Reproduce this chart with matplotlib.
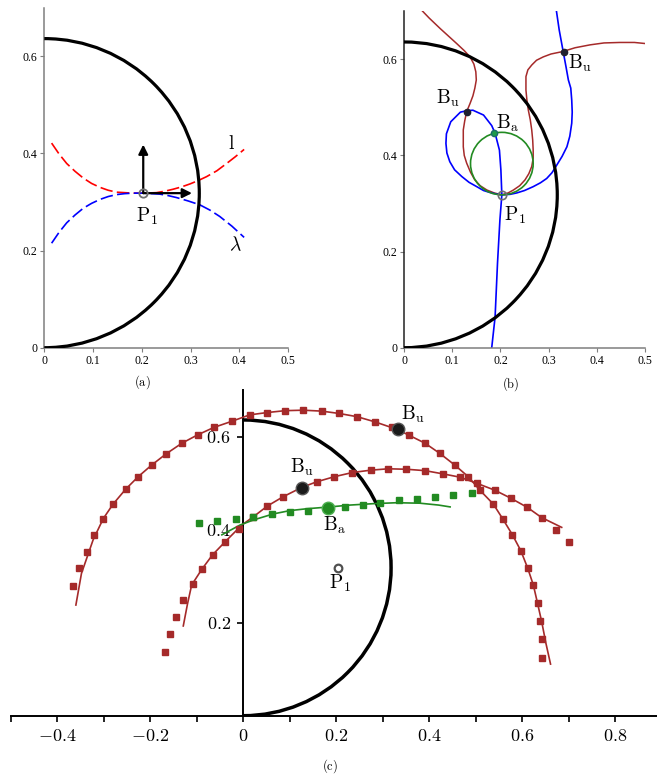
import matplotlib.pyplot as plt
from matplotlib.patches import Arc, Circle

plt.rcParams['mathtext.fontset'] = 'cm'
plt.rcParams['font.family'] = ['Liberation Serif', 'DejaVu Serif']

# boundary half circle and the point P1
circle_center = (0.0, 0.318)
circle_radius = 0.318
p1 = (0.203, 0.318)

# (a) the curves l and lambda touching at P1, and the two unit directions
l_x = [0.015, 0.030, 0.046, 0.063, 0.080, 0.097, 0.114, 0.131, 0.148, 0.165, 0.182, 0.203, 0.230,
       0.247, 0.264, 0.282, 0.299, 0.316, 0.333, 0.354, 0.374, 0.392, 0.410]
l_y = [0.421, 0.399, 0.379, 0.363, 0.349, 0.338, 0.330, 0.324, 0.320, 0.319, 0.318, 0.318, 0.319,
       0.322, 0.326, 0.331, 0.337, 0.344, 0.352, 0.364, 0.379, 0.393, 0.408]
lam_x = [0.015, 0.030, 0.046, 0.063, 0.080, 0.097, 0.114, 0.131, 0.148, 0.165, 0.182, 0.203, 0.220,
         0.237, 0.254, 0.271, 0.295, 0.319, 0.340, 0.360, 0.385, 0.410]
lam_y = [0.215, 0.237, 0.257, 0.273, 0.287, 0.297, 0.305, 0.311, 0.315, 0.317, 0.318, 0.318, 0.317,
         0.316, 0.313, 0.309, 0.302, 0.294, 0.283, 0.270, 0.250, 0.227]
arrow_dx = [0.0, 0.1]
arrow_dy = [0.1, 0.0]

# (b) blue and brown curves, green circle, points Bu and Ba
blue_x = [0.182, 0.189, 0.194, 0.199, 0.203, 0.201, 0.198, 0.189, 0.182, 0.165, 0.143, 0.130, 0.117,
          0.097, 0.088, 0.087, 0.089, 0.095, 0.105, 0.120, 0.135, 0.151, 0.165, 0.178, 0.190, 0.203,
          0.220, 0.234, 0.250, 0.268, 0.283, 0.296, 0.307, 0.317, 0.328, 0.338, 0.344, 0.348, 0.349,
          0.348, 0.346, 0.341, 0.336, 0.331, 0.322, 0.315]
blue_y = [0.000, 0.064, 0.176, 0.266, 0.318, 0.370, 0.411, 0.446, 0.462, 0.484, 0.494, 0.493, 0.490,
          0.470, 0.445, 0.425, 0.405, 0.387, 0.370, 0.356, 0.344, 0.335, 0.327, 0.323, 0.320, 0.318,
          0.319, 0.322, 0.327, 0.335, 0.343, 0.352, 0.364, 0.380, 0.398, 0.418, 0.440, 0.467, 0.490,
          0.515, 0.540, 0.557, 0.585, 0.612, 0.661, 0.709]
brown_x = [0.030, 0.052, 0.075, 0.109, 0.125, 0.137, 0.145, 0.149, 0.150, 0.147, 0.143, 0.137, 0.130,
           0.126, 0.123, 0.123, 0.123, 0.125, 0.130, 0.138, 0.147, 0.158, 0.172, 0.187, 0.203, 0.216,
           0.227, 0.240, 0.251, 0.259, 0.265, 0.268, 0.268, 0.267, 0.265, 0.262, 0.258, 0.255, 0.253,
           0.253, 0.257, 0.265, 0.275, 0.289, 0.305, 0.329, 0.355, 0.386, 0.415, 0.448, 0.478, 0.508]
brown_y = [0.709, 0.686, 0.664, 0.633, 0.618, 0.605, 0.590, 0.574, 0.557, 0.540, 0.524, 0.508, 0.491,
           0.472, 0.453, 0.435, 0.418, 0.400, 0.384, 0.365, 0.349, 0.337, 0.328, 0.322, 0.318, 0.322,
           0.328, 0.337, 0.349, 0.362, 0.377, 0.394, 0.411, 0.432, 0.453, 0.474, 0.494, 0.515, 0.536,
           0.564, 0.578, 0.588, 0.598, 0.605, 0.611, 0.616, 0.624, 0.630, 0.634, 0.635, 0.635, 0.632]
green_center = (0.203, 0.383)
green_radius = 0.065
bu_x = [0.130, 0.331]
bu_y = [0.491, 0.616]
ba = (0.187, 0.446)

# (c) the two brown branches and the green branch, each with its square-marker series
outer_x = [-0.360, -0.348, -0.323, -0.301, -0.280, -0.253, -0.226, -0.197, -0.166, -0.132, -0.098,
           -0.063, -0.025, 0.014, 0.052, 0.090, 0.129, 0.169, 0.206, 0.245, 0.283, 0.330, 0.357,
           0.391, 0.423, 0.455, 0.484, 0.509, 0.538, 0.559, 0.579, 0.597, 0.612, 0.624, 0.633,
           0.642, 0.651, 0.661]
outer_y = [0.238, 0.306, 0.378, 0.424, 0.455, 0.487, 0.514, 0.539, 0.563, 0.586, 0.604, 0.620, 0.633,
           0.647, 0.652, 0.656, 0.657, 0.655, 0.650, 0.643, 0.632, 0.616, 0.603, 0.586, 0.564, 0.539,
           0.514, 0.485, 0.455, 0.422, 0.389, 0.355, 0.317, 0.281, 0.242, 0.202, 0.156, 0.111]
outer_mk_x = [-0.366, -0.353, -0.337, -0.320, -0.301, -0.280, -0.253, -0.226, -0.197, -0.166, -0.132,
              -0.098, -0.063, -0.025, 0.014, 0.052, 0.090, 0.129, 0.169, 0.206, 0.245, 0.283, 0.320,
              0.357, 0.391, 0.423, 0.455, 0.484, 0.509, 0.538, 0.559, 0.579, 0.597, 0.612, 0.624,
              0.633, 0.638, 0.642, 0.642]
outer_mk_y = [0.280, 0.317, 0.353, 0.389, 0.424, 0.455, 0.487, 0.514, 0.539, 0.563, 0.586, 0.604,
              0.620, 0.633, 0.647, 0.652, 0.656, 0.657, 0.655, 0.650, 0.643, 0.632, 0.621, 0.603,
              0.586, 0.564, 0.539, 0.514, 0.485, 0.455, 0.422, 0.389, 0.355, 0.317, 0.281, 0.242,
              0.204, 0.164, 0.125]
inner_x = [-0.129, -0.120, -0.111, -0.089, -0.066, -0.039, -0.003, 0.022, 0.052, 0.086, 0.126, 0.158,
           0.196, 0.235, 0.274, 0.312, 0.351, 0.391, 0.430, 0.466, 0.502, 0.541, 0.575, 0.611, 0.642,
           0.685]
inner_y = [0.193, 0.240, 0.281, 0.315, 0.346, 0.374, 0.410, 0.428, 0.451, 0.471, 0.491, 0.503, 0.514,
           0.523, 0.528, 0.531, 0.530, 0.527, 0.520, 0.513, 0.500, 0.485, 0.468, 0.448, 0.426, 0.405]
inner_mk_x = [-0.168, -0.158, -0.145, -0.129, -0.109, -0.089, -0.066, -0.039, -0.010, 0.022, 0.052,
              0.086, 0.126, 0.158, 0.196, 0.235, 0.274, 0.312, 0.351, 0.391, 0.430, 0.466, 0.502,
              0.541, 0.575, 0.611, 0.642, 0.672, 0.700]
inner_mk_y = [0.138, 0.175, 0.212, 0.249, 0.283, 0.315, 0.346, 0.374, 0.401, 0.428, 0.451, 0.471,
              0.491, 0.503, 0.514, 0.523, 0.528, 0.531, 0.530, 0.527, 0.520, 0.513, 0.500, 0.485,
              0.468, 0.448, 0.426, 0.399, 0.373]
green_x = [-0.046, -0.007, 0.022, 0.065, 0.100, 0.136, 0.186, 0.230, 0.280, 0.330, 0.380, 0.420, 0.445]
green_y = [0.389, 0.410, 0.421, 0.434, 0.441, 0.445, 0.449, 0.453, 0.456, 0.458, 0.457, 0.453, 0.449]
green_mk_x = [-0.095, -0.056, -0.016, 0.022, 0.061, 0.100, 0.140, 0.180, 0.219, 0.257, 0.295, 0.335,
              0.374, 0.412, 0.452, 0.491]
green_mk_y = [0.414, 0.418, 0.423, 0.428, 0.433, 0.437, 0.440, 0.444, 0.449, 0.453, 0.458, 0.464,
              0.467, 0.471, 0.475, 0.480]
bu_c = [(0.127, 0.489), (0.332, 0.616)]
ba_c = (0.183, 0.446)

# tick labels
small_xticks = [0, 0.1, 0.2, 0.3, 0.4, 0.5]
small_xlabels = ['0', '0.1', '0.2', '0.3', '0.4', '0.5']
small_yticks = [0, 0.2, 0.4, 0.6]
small_ylabels = ['0', '0.2', '0.4', '0.6']
c_xticks = [-0.4, -0.2, 0, 0.2, 0.4, 0.6, 0.8]
c_xlabels = ['$-0.4$', '$-0.2$', '$0$', '$0.2$', '$0.4$', '$0.6$', '$0.8$']
c_xminor = [-0.5, -0.3, -0.1, 0.1, 0.3, 0.5, 0.7]
c_yticks = [0.2, 0.4, 0.6]
c_ylabels = ['$0.2$', '$0.4$', '$0.6$']

BROWN = '#a52a2a'
GREEN = '#228b22'
W, H = 657, 779

fig = plt.figure(figsize=(W / 100, H / 100), dpi=100)


def half_circle(ax, lw):
    ax.add_patch(Arc(circle_center, 2 * circle_radius, 2 * circle_radius, theta1=-90, theta2=90,
                     color='black', lw=lw, zorder=3))


def small_axes(rect, left_color, bottom_color):
    ax = fig.add_axes(rect)
    ax.set_xlim(0, 0.5)
    ax.set_ylim(0, 0.7)
    ax.spines['top'].set_visible(False)
    ax.spines['right'].set_visible(False)
    ax.spines['left'].set_color(left_color)
    ax.spines['bottom'].set_color(bottom_color)
    ax.spines['left'].set_linewidth(1.1)
    ax.spines['bottom'].set_linewidth(1.1)
    ax.set_xticks(small_xticks, small_xlabels)
    ax.set_yticks(small_yticks, small_ylabels)
    ax.tick_params(labelsize=8.5, length=3, width=0.8, pad=2, color=bottom_color)
    return ax


def label(ax, x, y, s, size=14):
    ax.text(x, y, s, fontsize=size, ha='center', va='center', zorder=6)


# (a)
ax1 = small_axes([44.3 / W, 1 - 347.7 / H, 243.7 / W, 0.7 * 486 / H], '#7f7f7f', '#7f7f7f')
half_circle(ax1, 2.3)
ax1.plot(l_x, l_y, color='red', lw=1.2, dashes=[7.5, 2.6])
ax1.plot(lam_x, lam_y, color='blue', lw=1.2, dashes=[7.5, 2.6])
for dx, dy in zip(arrow_dx, arrow_dy):
    ax1.annotate('', xy=(p1[0] + dx, p1[1] + dy), xytext=p1,
                 arrowprops=dict(arrowstyle='-|>', color='black', lw=1.6, mutation_scale=14,
                                 shrinkA=0, shrinkB=0), zorder=4)
ax1.plot(*p1, 'o', ms=6, mfc='none', mec='#707070', mew=1.3, zorder=5)
label(ax1, 0.21, 0.27, r'$\mathrm{P}_1$')
label(ax1, 0.384, 0.42, r'$\mathrm{l}$')
label(ax1, 0.391, 0.211, r'$\lambda$')

# (b)
ax2 = small_axes([404 / W, 1 - 347.7 / H, 241 / W, 0.7 * 480.7 / H], '#222222', '#7f7f7f')
half_circle(ax2, 2.3)
ax2.plot(brown_x, brown_y, color=BROWN, lw=1.1)
ax2.plot(blue_x, blue_y, color='blue', lw=1.2)
ax2.add_patch(Circle(green_center, green_radius, fill=False, ec=GREEN, lw=1.2, zorder=2))
ax2.plot(bu_x, bu_y, 'o', ms=4.5, color='#202030', zorder=5)
ax2.plot(*ba, 'o', ms=4.5, mfc='#1f9a4a', mec='#1a6a6a', zorder=5)
ax2.plot(*p1, 'o', ms=6, mfc='none', mec='#707070', mew=1.2, zorder=5)
label(ax2, 0.092, 0.519, r'$\mathrm{B}_\mathrm{u}$')
label(ax2, 0.216, 0.467, r'$\mathrm{B}_\mathrm{a}$')
label(ax2, 0.230, 0.276, r'$\mathrm{P}_1$')
label(ax2, 0.365, 0.592, r'$\mathrm{B}_\mathrm{u}$')

# (c)
ax3 = fig.add_axes([10.8 / W, 1 - 715.7 / H, 646.2 / W, 0.7 * 465 / H])
ax3.set_xlim(-0.5, 0.89)
ax3.set_ylim(0, 0.7)
ax3.spines['top'].set_visible(False)
ax3.spines['right'].set_visible(False)
ax3.spines['left'].set_position(('data', 0))
ax3.spines['left'].set_linewidth(1.4)
ax3.spines['bottom'].set_linewidth(1.4)
ax3.set_xticks(c_xticks, c_xlabels)
ax3.set_xticks(c_xminor, minor=True)
ax3.set_yticks(c_yticks, c_ylabels)
ax3.tick_params(which='both', labelsize=13, length=4, width=1.2, pad=5)
half_circle(ax3, 2.5)
ax3.plot(outer_x, outer_y, color=BROWN, lw=1.2, zorder=3)
ax3.plot(inner_x, inner_y, color=BROWN, lw=1.2, zorder=3)
ax3.plot(green_x, green_y, color=GREEN, lw=1.2, zorder=3)
ax3.plot(outer_mk_x, outer_mk_y, 's', ms=3.7, color=BROWN, zorder=4)
ax3.plot(inner_mk_x, inner_mk_y, 's', ms=3.7, color=BROWN, zorder=4)
ax3.plot(green_mk_x, green_mk_y, 's', ms=3.7, color=GREEN, zorder=4)
for x, y in bu_c:
    ax3.plot(x, y, 'o', ms=9, mfc='#1a1a1a', mec='#555555', mew=1, zorder=5)
ax3.plot(*ba_c, 'o', ms=9, mfc=GREEN, mec='#4caf50', mew=1, zorder=5)
ax3.plot(*p1, 'o', ms=5.5, mfc='none', mec='#505050', mew=1.6, zorder=5)
label(ax3, 0.126, 0.535, r'$\mathrm{B}_\mathrm{u}$')
label(ax3, 0.366, 0.647, r'$\mathrm{B}_\mathrm{u}$')
label(ax3, 0.197, 0.410, r'$\mathrm{B}_\mathrm{a}$')
label(ax3, 0.208, 0.285, r'$\mathrm{P}_1$')

# panel captions
fig.text(142 / W, 1 - 382 / H, r'$(\mathrm{a})$', fontsize=9, ha='center', va='center')
fig.text(511 / W, 1 - 384 / H, r'$(\mathrm{b})$', fontsize=9, ha='center', va='center')
fig.text(330 / W, 1 - 766 / H, r'$(\mathrm{c})$', fontsize=9, ha='center', va='center')

fig.savefig('out.png', dpi=100)
